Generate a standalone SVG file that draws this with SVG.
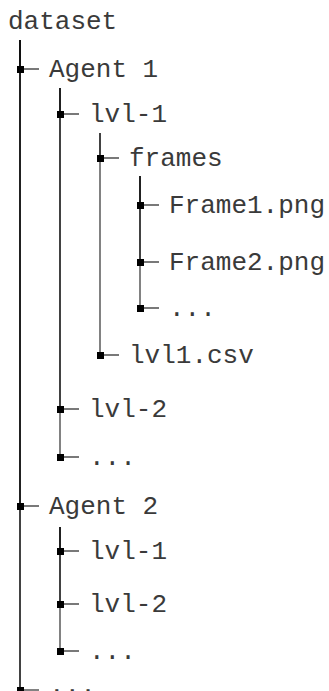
<svg xmlns="http://www.w3.org/2000/svg" width="329" height="691" viewBox="0 0 329 691">
  <style>
    .lbl { font-family: "Liberation Mono", "Courier New", monospace; font-size: 26px; fill: #3a3a3a; }
    .wire { fill: none; stroke: #000; stroke-width: 1.4; stroke-opacity: 0.7; }
    .dot { fill: #000; }
  </style>
  <rect width="329" height="691" fill="#fff"/>

  <!-- connectors: one elbow per child, from the parent's trunk top -->
  <g id="connectors">
    <path class="wire" d="M20 40 V69 H39"/>
    <path class="wire" d="M20 40 V506 H39"/>
    <path class="wire" d="M20 40 V691"/>
    <path class="wire" d="M20 40 V691"/>
    <path class="wire" d="M20 690 H39"/>

    <path class="wire" d="M60 88 V114 H79"/>
    <path class="wire" d="M60 88 V409 H79"/>
    <path class="wire" d="M60 88 V457 H79"/>

    <path class="wire" d="M100 133 V158 H119"/>
    <path class="wire" d="M100 133 V355 H119"/>

    <path class="wire" d="M140 176 V205 H159"/>
    <path class="wire" d="M140 176 V262 H159"/>
    <path class="wire" d="M140 176 V308 H159"/>

    <path class="wire" d="M60 527 V551 H79"/>
    <path class="wire" d="M60 527 V604 H79"/>
    <path class="wire" d="M60 527 V651 H79"/>
  </g>

  <g id="dataset"><text class="lbl" x="8" y="29">dataset</text></g>

  <g id="agent1"><rect class="dot" x="17" y="66" width="7" height="7"/><text class="lbl" x="49" y="77">Agent 1</text></g>
  <g id="a1-lvl1"><rect class="dot" x="57" y="111" width="7" height="7"/><text class="lbl" x="89" y="122">lvl-1</text></g>
  <g id="a1-frames"><rect class="dot" x="97" y="155" width="7" height="7"/><text class="lbl" x="129" y="166">frames</text></g>
  <g id="frame1"><rect class="dot" x="137" y="202" width="7" height="7"/><text class="lbl" x="169" y="213">Frame1.png</text></g>
  <g id="frame2"><rect class="dot" x="137" y="259" width="7" height="7"/><text class="lbl" x="169" y="270">Frame2.png</text></g>
  <g id="frames-more"><rect class="dot" x="137" y="305" width="7" height="7"/><text class="lbl" x="169" y="316">...</text></g>
  <g id="a1-csv"><rect class="dot" x="97" y="352" width="7" height="7"/><text class="lbl" x="129" y="363">lvl1.csv</text></g>
  <g id="a1-lvl2"><rect class="dot" x="57" y="406" width="7" height="7"/><text class="lbl" x="89" y="417">lvl-2</text></g>
  <g id="a1-more"><rect class="dot" x="57" y="454" width="7" height="7"/><text class="lbl" x="89" y="465">...</text></g>

  <g id="agent2"><rect class="dot" x="17" y="503" width="7" height="7"/><text class="lbl" x="49" y="514">Agent 2</text></g>
  <g id="a2-lvl1"><rect class="dot" x="57" y="548" width="7" height="7"/><text class="lbl" x="89" y="559">lvl-1</text></g>
  <g id="a2-lvl2"><rect class="dot" x="57" y="601" width="7" height="7"/><text class="lbl" x="89" y="612">lvl-2</text></g>
  <g id="a2-more"><rect class="dot" x="57" y="648" width="7" height="7"/><text class="lbl" x="89" y="659">...</text></g>

  <g id="agents-more"><rect class="dot" x="17" y="687" width="7" height="7"/><text class="lbl" x="49" y="693">...</text></g>
</svg>
